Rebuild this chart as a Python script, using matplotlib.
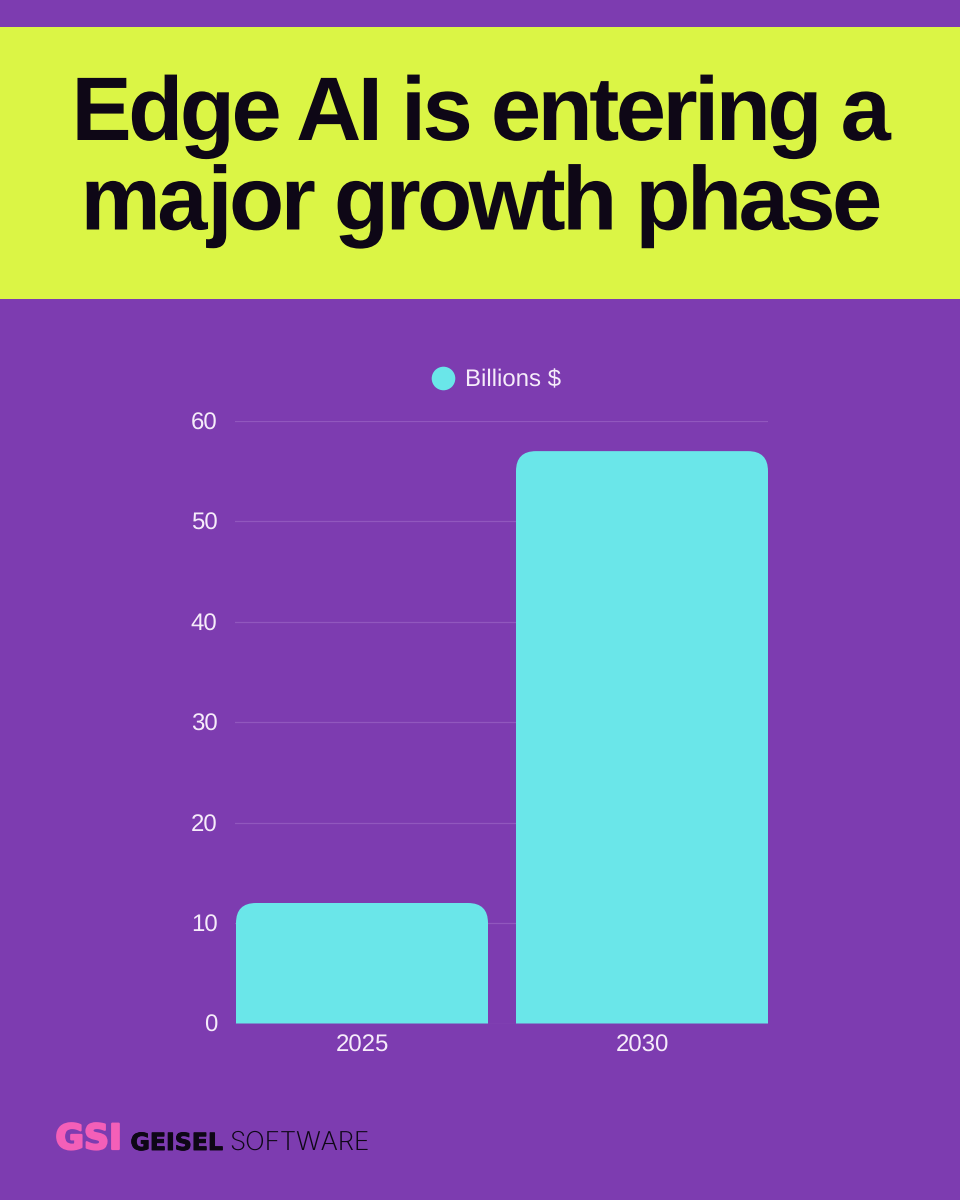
import numpy as np
import matplotlib
matplotlib.use("Agg")
import matplotlib.pyplot as plt
import matplotlib.patheffects as pe
from matplotlib.path import Path
from matplotlib.patches import PathPatch, Rectangle
from matplotlib.transforms import IdentityTransform

categories = ["2025", "2030"]
values = [12, 57]
yticks = [0, 10, 20, 30, 40, 50, 60]
series_name = "Billions $"
title_lines = ["Edge AI is entering a", "major growth phase"]

PURPLE = "#7D3CB0"
LIME = "#DBF545"
CYAN = "#6AE6E9"
INK = "#0E0716"
PINK = "#F45FB8"
LABEL = "#F6ECFA"

W, H = 960, 1200
plt.rcParams["font.family"] = ["Liberation Sans", "DejaVu Sans"]
plt.rcParams["text.hinting"] = "none"
plt.rcParams["text.hinting_factor"] = 1
fig = plt.figure(figsize=(W / 100, H / 100), dpi=100, facecolor=PURPLE)


class Tracking(pe.AbstractPathEffect):
    """Tightens letter spacing of a text, keeping it centred on its anchor."""

    def __init__(self, track_px, space_gap=18):
        super().__init__()
        self.track = track_px
        self.space_gap = space_gap

    def draw_path(self, renderer, gc, tpath, affine, rgbFace=None):
        p = affine.transform_path(tpath)
        v, c = np.array(p.vertices), np.array(p.codes)
        starts = list(np.where(c == Path.MOVETO)[0]) + [len(c)]
        subs = [(starts[i], starts[i + 1]) for i in range(len(starts) - 1)]
        subs.sort(key=lambda s: v[s[0]:s[1] - 1, 0].min())
        cx = (v[:, 0].min() + v[:, 0].max()) / 2
        verts, codes = [], []
        idx, right = 0, None
        for a, b in subs:
            lo, hi = v[a:b - 1, 0].min(), v[a:b - 1, 0].max()
            if right is not None and lo > right:
                idx += 2 if lo - right > self.space_gap else 1
            right = hi if right is None else max(right, hi)
            s = v[a:b].copy()
            s[:, 0] -= self.track * idx
            verts.append(s)
            codes.append(c[a:b])
        verts = np.concatenate(verts)
        verts[:, 0] += cx - (verts[:, 0].min() + verts[:, 0].max()) / 2
        renderer.draw_path(gc, Path(verts, np.concatenate(codes)), IdentityTransform(), rgbFace)


# title band
fig.add_artist(Rectangle((0, 1 - 299 / H), 1, (299 - 27) / H, transform=fig.transFigure,
                         facecolor=LIME, edgecolor="none"))
for line, yb in zip(title_lines, [140, 229.5]):
    t = fig.text(480 / W, 1 - yb / H, line, ha="center", va="baseline", fontsize=65,
                 fontweight="bold", color=INK, family="Liberation Sans")
    t.set_path_effects([Tracking(3.5)])

# chart
left, right, top, bottom = 235, 768, 421, 1023.5
c0, c1 = 362, 642
unit = c1 - c0
ax = fig.add_axes([left / W, 1 - bottom / H, (right - left) / W, (bottom - top) / H])
ax.set_facecolor("none")
ax.set_xlim(-(c0 - left) / unit, (right - c0) / unit)
ax.set_ylim(0, 60)
for s in ax.spines.values():
    s.set_visible(False)
ax.set_yticks(yticks)
ax.set_xticks(range(len(categories)))
ax.set_xticklabels(categories)
ax.tick_params(axis="both", length=0, labelsize=17, labelcolor=LABEL)
ax.tick_params(axis="y", pad=12.5)
ax.tick_params(axis="x", pad=7.5)
ax.grid(axis="y", color="#9157BE", linewidth=0.9, zorder=0)
ax.set_axisbelow(True)

# rounded-top bars
bar_w = 0.9
rx = 20 / unit
ry = 20 / ((bottom - top) / 60)
for i, v in enumerate(values):
    x0, x1 = i - bar_w / 2, i + bar_w / 2
    verts = [(x0, 0), (x0, v - ry), (x0, v), (x0 + rx, v), (x1 - rx, v),
             (x1, v), (x1, v - ry), (x1, 0), (x0, 0)]
    codes = [Path.MOVETO, Path.LINETO, Path.CURVE3, Path.CURVE3, Path.LINETO,
             Path.CURVE3, Path.CURVE3, Path.LINETO, Path.CLOSEPOLY]
    ax.add_patch(PathPatch(Path(verts, codes), facecolor=CYAN, edgecolor="none", zorder=3))

# legend
fig.add_artist(plt.Line2D([443 / W], [1 - 378 / H], marker="o", markersize=17, color=CYAN,
                          markeredgecolor="none", linestyle="none", transform=fig.transFigure))
fig.text(465 / W, 1 - 378 / H, series_name, ha="left", va="center_baseline", fontsize=17,
         color=LABEL)

# logo
gsi = fig.text(55.5 / W, 1 - 1149 / H, "GSI", ha="left", va="baseline", fontsize=25,
               fontweight="bold", color=PINK, family="DejaVu Sans")
gsi.set_path_effects([pe.withStroke(linewidth=1.6, foreground=PINK)])
gei = fig.text(130.5 / W, 1 - 1150 / H, "GEISEL", ha="left", va="baseline", fontsize=17,
               fontweight="bold", color=INK, family="DejaVu Sans")
gei.set_path_effects([pe.withStroke(linewidth=0.7, foreground=INK)])
fig.text(229 / W, 1 - 1150 / H, "SOFTWARE", ha="left", va="baseline", fontsize=18.7,
         fontweight="light", color=INK, family="Inter")

fig.savefig("out.png", dpi=100, facecolor=PURPLE)
